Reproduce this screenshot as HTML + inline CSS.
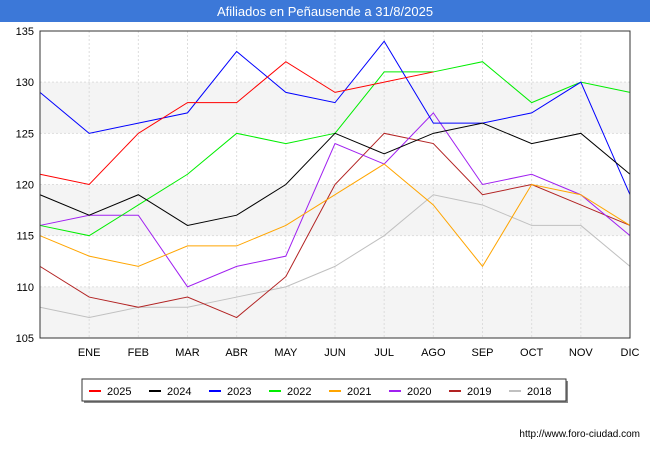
<!DOCTYPE html>
<html><head><meta charset="utf-8"><style>
body{margin:0;width:650px;height:450px;background:#fff;font-family:"Liberation Sans",sans-serif;overflow:hidden}
</style></head><body>
<svg width="650" height="450">
<rect x="0" y="0" width="650" height="22" fill="#3c78d8"/>
<text x="325" y="16" text-anchor="middle" font-size="13" fill="#fff">Afiliados en Peñausende a 31/8/2025</text>
<g id="bands"></g><g id="grid"></g><g id="lines"></g><g id="axes"></g>
<rect x="40" y="31" width="590" height="307" fill="none" stroke="#333"/>
<g id="legend"></g>
<text x="640" y="437" text-anchor="end" font-size="10" fill="#000">http://www.foro-ciudad.com</text>
</svg>
<script>
const months=["","ENE","FEB","MAR","ABR","MAY","JUN","JUL","AGO","SEP","OCT","NOV","DIC"];
const yTicks=[105,110,115,120,125,130,135];
const seriesNames=["2025","2024","2023","2022","2021","2020","2019","2018"];
const seriesColors=["#ff0000","#000000","#0000ff","#00ee00","#ffa500","#a020f0","#b22222","#c0c0c0"];
const s2025=[121,120,125,128,128,132,129,130,131];
const s2024=[119,117,119,116,117,120,125,123,125,126,124,125,121];
const s2023=[129,125,126,127,133,129,128,134,126,126,127,130,119];
const s2022=[116,115,118,121,125,124,125,131,131,132,128,130,129];
const s2021=[115,113,112,114,114,116,119,122,118,112,120,119,116];
const s2020=[116,117,117,110,112,113,124,122,127,120,121,119,115];
const s2019=[112,109,108,109,107,111,120,125,124,119,120,118,116];
const s2018=[108,107,108,108,109,110,112,115,119,118,116,116,112];
const allSeries=[s2025,s2024,s2023,s2022,s2021,s2020,s2019,s2018];
const NS="http://www.w3.org/2000/svg";
const X=i=>40+i*590/12, Y=v=>338-(v-105)*307/30;
function mk(t,a,p){const e=document.createElementNS(NS,t);for(const k in a)e.setAttribute(k,a[k]);p.appendChild(e);return e;}
const bands=document.getElementById('bands'),grid=document.getElementById('grid'),axes=document.getElementById('axes'),lines=document.getElementById('lines'),legend=document.getElementById('legend');
for(let i=0;i<yTicks.length-1;i+=2){const y0=yTicks[i],y1=yTicks[i+1];
const r=mk('rect',{x:40,y:Y(y1),width:590,height:Y(y0)-Y(y1),fill:'#f4f4f4'},bands);

}
yTicks.forEach(v=>{const l=mk('line',{x1:40,x2:630,y1:Y(v),y2:Y(v),stroke:'#ddd','stroke-dasharray':'2,2'},grid);


const t=mk('text',{x:34,y:Y(v)+4,'text-anchor':'end','font-size':11},axes);t.textContent=v;

});
months.forEach((m,i)=>{if(i>0){const l=mk('line',{x1:X(i),x2:X(i),y1:31,y2:338,stroke:'#ddd','stroke-dasharray':'2,2'},grid);

}
const t=mk('text',{x:X(i),y:356,'text-anchor':'middle','font-size':11},axes);t.textContent=m;

});
for(let s=allSeries.length-1;s>=0;s--){const p=mk('polyline',{points:allSeries[s].map((v,i)=>X(i)+','+Y(v)).join(' '),fill:'none',stroke:seriesColors[s],'stroke-width':1},lines);

}
const lb=mk('rect',{x:84,y:381,width:484,height:22,fill:'#888'},legend);


const lr=mk('rect',{x:82,y:379,width:484,height:22,fill:'#fff',stroke:'#333'},legend);


seriesNames.forEach((n,i)=>{const x=89+i*60;
const l=mk('line',{x1:x,x2:x+12,y1:391,y2:391,stroke:seriesColors[i],'stroke-width':2},legend);


const t=mk('text',{x:x+18,y:395,'font-size':11},legend);t.textContent=n;

});
</script>
</body></html>
